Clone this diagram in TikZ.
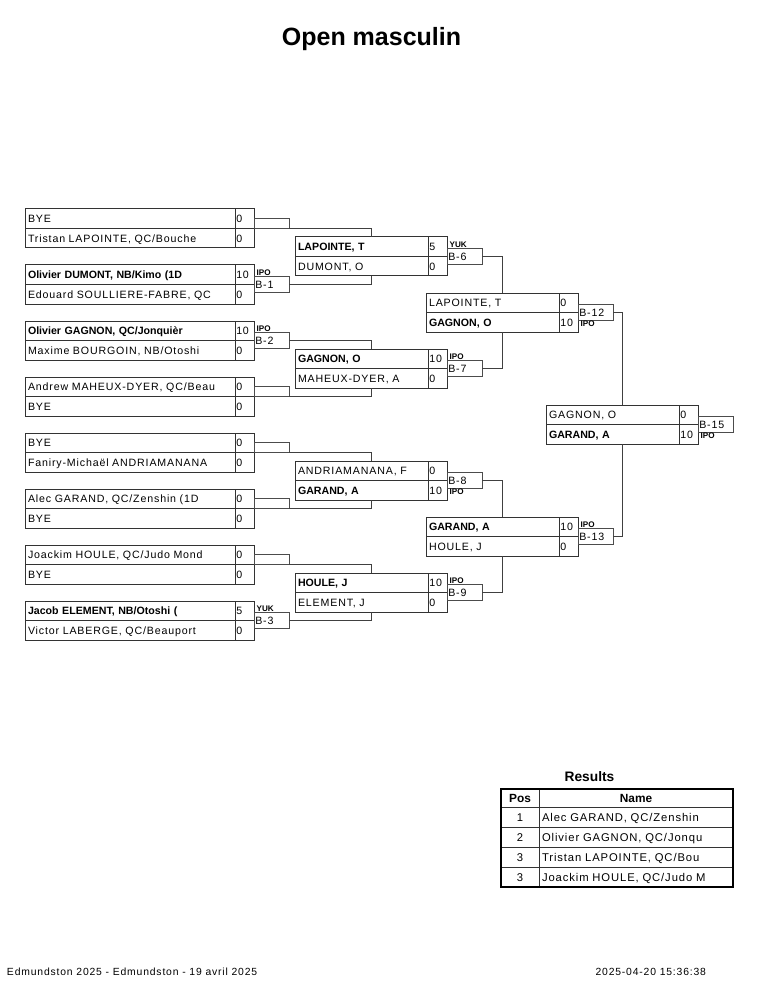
\documentclass[tikz,border=0pt]{standalone}
\usepackage{fontspec}
\setmainfont{Liberation Sans}
\newfontfamily\cellfont[LetterSpace=8]{Liberation Sans}
\tikzset{
  cell/.style={draw=black!80, line width=0.8pt, anchor=north west, inner xsep=2.4pt, inner ysep=0pt,
    minimum height=15.6pt, text height=6.1pt, text depth=0pt, align=left,
    font=\fontsize{8.5}{10}\cellfont},
  name1/.style={cell, text width=163.2pt},
  name2/.style={cell, text width=101.6pt},
  score/.style={cell, inner xsep=1pt, text width=13.2pt},
  win/.style={font=\fontsize{8.5}{10}\normalfont\bfseries},
  frame1/.style={draw=black!80, line width=0.8pt, anchor=north west, inner sep=0pt,
    minimum width=183.2pt, minimum height=31.2pt},
  frame2/.style={frame1, minimum width=121.6pt},
  lbl/.style={draw=black!70, line width=0.8pt, anchor=west, inner xsep=1pt, inner ysep=0pt,
    minimum height=12.8pt, text width=26pt, text height=6.1pt, text depth=0pt, align=left,
    font=\fontsize{8.5}{10}\cellfont},
  nolbl/.style={draw=black!70, line width=0.8pt, anchor=south west, inner sep=0pt,
    minimum width=28pt, minimum height=8pt},
  dec/.style={anchor=south west, inner sep=0.6pt, xshift=1.5pt, font=\fontsize{6.5}{7}\normalfont\bfseries},
  decbelow/.style={dec, anchor=north west},
  link/.style={draw=black!75, line width=0.8pt},
  ttl/.style={inner sep=0pt, font=\fontsize{20}{24}\normalfont\bfseries},
  foot/.style={inner sep=0pt, font=\fontsize{8.3}{10}\cellfont},
  restitle/.style={inner sep=0pt, font=\fontsize{11}{13}\normalfont\bfseries},
  tcell/.style={draw=black!80, line width=0.8pt, anchor=north west, inner ysep=0pt,
    minimum height=16pt, text height=6.5pt, text depth=0pt, font=\fontsize{9}{11}\cellfont},
  tpos/.style={tcell, inner xsep=0pt, text width=30.4pt, align=center},
  tname/.style={tcell, inner xsep=2.4pt, text width=150.4pt, align=left},
  thead/.style={minimum height=14.4pt, font=\fontsize{9.5}{11}\normalfont\bfseries},
  tframe/.style={draw=black, line width=1.2pt, anchor=north west, inner sep=0pt,
    minimum width=185.6pt, minimum height=78.4pt},
}
\begin{document}
\begin{tikzpicture}[x=0.8pt,y=-0.8pt,every node/.append style={outer sep=0pt}]
\fill[white] (0,0) rectangle (765,990);
\useasboundingbox (0,0) rectangle (765,990);
%
\node[ttl,anchor=base](title) at (371.5,45.5) {Open masculin};
%
% first round
\node[frame1](a1) at (25,209) {};
\node[name1](a1t) at (a1.north west) {BYE};
\node[name1](a1b) at (a1t.south west) {Tristan LAPOINTE, QC/Bouche};
\node[score](a1ts) at (a1t.north east) {0};
\node[score](a1bs) at (a1b.north east) {0};
\node[nolbl](la1) at (a1.east) {};
%
\node[frame1](a2) at (25,265) {};
\node[name1,win](a2t) at (a2.north west) {Olivier DUMONT, NB/Kimo (1D};
\node[name1](a2b) at (a2t.south west) {Edouard SOULLIERE-FABRE, QC};
\node[score](a2ts) at (a2t.north east) {10};
\node[score](a2bs) at (a2b.north east) {0};
\node[lbl](la2) at (a2.east) {B-1};
\node[dec](da2) at (la2.north west) {IPO};
%
\node[frame1](a3) at (25,321) {};
\node[name1,win](a3t) at (a3.north west) {Olivier GAGNON, QC/Jonquièr};
\node[name1](a3b) at (a3t.south west) {Maxime BOURGOIN, NB/Otoshi};
\node[score](a3ts) at (a3t.north east) {10};
\node[score](a3bs) at (a3b.north east) {0};
\node[lbl](la3) at (a3.east) {B-2};
\node[dec](da3) at (la3.north west) {IPO};
%
\node[frame1](a4) at (25,377) {};
\node[name1](a4t) at (a4.north west) {Andrew MAHEUX-DYER, QC/Beau};
\node[name1](a4b) at (a4t.south west) {BYE};
\node[score](a4ts) at (a4t.north east) {0};
\node[score](a4bs) at (a4b.north east) {0};
\node[nolbl](la4) at (a4.east) {};
%
\node[frame1](a5) at (25,433) {};
\node[name1](a5t) at (a5.north west) {BYE};
\node[name1](a5b) at (a5t.south west) {Faniry-Michaël ANDRIAMANANA};
\node[score](a5ts) at (a5t.north east) {0};
\node[score](a5bs) at (a5b.north east) {0};
\node[nolbl](la5) at (a5.east) {};
%
\node[frame1](a6) at (25,489) {};
\node[name1](a6t) at (a6.north west) {Alec GARAND, QC/Zenshin (1D};
\node[name1](a6b) at (a6t.south west) {BYE};
\node[score](a6ts) at (a6t.north east) {0};
\node[score](a6bs) at (a6b.north east) {0};
\node[nolbl](la6) at (a6.east) {};
%
\node[frame1](a7) at (25,545) {};
\node[name1](a7t) at (a7.north west) {Joackim HOULE, QC/Judo Mond};
\node[name1](a7b) at (a7t.south west) {BYE};
\node[score](a7ts) at (a7t.north east) {0};
\node[score](a7bs) at (a7b.north east) {0};
\node[nolbl](la7) at (a7.east) {};
%
\node[frame1](a8) at (25,601) {};
\node[name1,win](a8t) at (a8.north west) {Jacob ELEMENT, NB/Otoshi (};
\node[name1](a8b) at (a8t.south west) {Victor LABERGE, QC/Beauport};
\node[score](a8ts) at (a8t.north east) {5};
\node[score](a8bs) at (a8b.north east) {0};
\node[lbl](la8) at (a8.east) {B-3};
\node[dec](da8) at (la8.north west) {YUK};
%
% second round
\node[frame2](b1) at (295,237) {};
\node[name2,win](b1t) at (b1.north west) {LAPOINTE, T};
\node[name2](b1b) at (b1t.south west) {DUMONT, O};
\node[score](b1ts) at (b1t.north east) {5};
\node[score](b1bs) at (b1b.north east) {0};
\node[lbl](lb1) at (b1.east) {B-6};
\node[dec](db1) at (lb1.north west) {YUK};
%
\node[frame2](b2) at (295,349) {};
\node[name2,win](b2t) at (b2.north west) {GAGNON, O};
\node[name2](b2b) at (b2t.south west) {MAHEUX-DYER, A};
\node[score](b2ts) at (b2t.north east) {10};
\node[score](b2bs) at (b2b.north east) {0};
\node[lbl](lb2) at (b2.east) {B-7};
\node[dec](db2) at (lb2.north west) {IPO};
%
\node[frame2](b3) at (295,461) {};
\node[name2](b3t) at (b3.north west) {ANDRIAMANANA, F};
\node[name2,win](b3b) at (b3t.south west) {GARAND, A};
\node[score](b3ts) at (b3t.north east) {0};
\node[score](b3bs) at (b3b.north east) {10};
\node[lbl](lb3) at (b3.east) {B-8};
\node[decbelow](db3) at (lb3.south west) {IPO};
%
\node[frame2](b4) at (295,573) {};
\node[name2,win](b4t) at (b4.north west) {HOULE, J};
\node[name2](b4b) at (b4t.south west) {ELEMENT, J};
\node[score](b4ts) at (b4t.north east) {10};
\node[score](b4bs) at (b4b.north east) {0};
\node[lbl](lb4) at (b4.east) {B-9};
\node[dec](db4) at (lb4.north west) {IPO};
%
% third round
\node[frame2](c1) at (426,293) {};
\node[name2](c1t) at (c1.north west) {LAPOINTE, T};
\node[name2,win](c1b) at (c1t.south west) {GAGNON, O};
\node[score](c1ts) at (c1t.north east) {0};
\node[score](c1bs) at (c1b.north east) {10};
\node[lbl](lc1) at (c1.east) {B-12};
\node[decbelow](dc1) at (lc1.south west) {IPO};
%
\node[frame2](c2) at (426,517) {};
\node[name2,win](c2t) at (c2.north west) {GARAND, A};
\node[name2](c2b) at (c2t.south west) {HOULE, J};
\node[score](c2ts) at (c2t.north east) {10};
\node[score](c2bs) at (c2b.north east) {0};
\node[lbl](lc2) at (c2.east) {B-13};
\node[dec](dc2) at (lc2.north west) {IPO};
%
% final
\node[frame2](f) at (546,405) {};
\node[name2](ft) at (f.north west) {GAGNON, O};
\node[name2,win](fb) at (ft.south west) {GARAND, A};
\node[score](fts) at (ft.north east) {0};
\node[score](fbs) at (fb.north east) {10};
\node[lbl](lf) at (f.east) {B-15};
\node[decbelow](df) at (lf.south west) {IPO};
%
\draw[link](la1.south east) -| (b1.north) {};
\draw[link](la2.east) -| (b1.south) {};
\draw[link](la3.east) -| (b2.north) {};
\draw[link](la4.south east) -| (b2.south) {};
\draw[link](la5.south east) -| (b3.north) {};
\draw[link](la6.south east) -| (b3.south) {};
\draw[link](la7.south east) -| (b4.north) {};
\draw[link](la8.east) -| (b4.south) {};
%
\draw[link](lb1.east) -| (c1.north) {};
\draw[link](lb2.east) -| (c1.south) {};
\draw[link](lb3.east) -| (c2.north) {};
\draw[link](lb4.east) -| (c2.south) {};
%
\draw[link](lc1.east) -| (f.north) {};
\draw[link](lc2.east) -| (f.south) {};
%
% results
\node[restitle,anchor=base](res) at (589.5,781) {Results};
\node[tpos,thead](hpos) at (501,789) {Pos};
\node[tname,thead,align=center](hname) at (hpos.north east) {Name};
\node[tpos](pos1) at (hpos.south west) {1};
\node[tname](nam1) at (pos1.north east) {Alec GARAND, QC/Zenshin};
\node[tpos](pos2) at (pos1.south west) {2};
\node[tname](nam2) at (pos2.north east) {Olivier GAGNON, QC/Jonqu};
\node[tpos](pos3) at (pos2.south west) {3};
\node[tname](nam3) at (pos3.north east) {Tristan LAPOINTE, QC/Bou};
\node[tpos](pos4) at (pos3.south west) {3};
\node[tname](nam4) at (pos4.north east) {Joackim HOULE, QC/Judo M};
\node[tframe](tab) at (501,789) {};
%
\node[foot,anchor=base west](event) at (7,975.5) {Edmundston 2025 - Edmundston - 19 avril 2025};
\node[foot,anchor=base east](stamp) at (706,975.5) {2025-04-20 15:36:38};
\end{tikzpicture}
\end{document}
